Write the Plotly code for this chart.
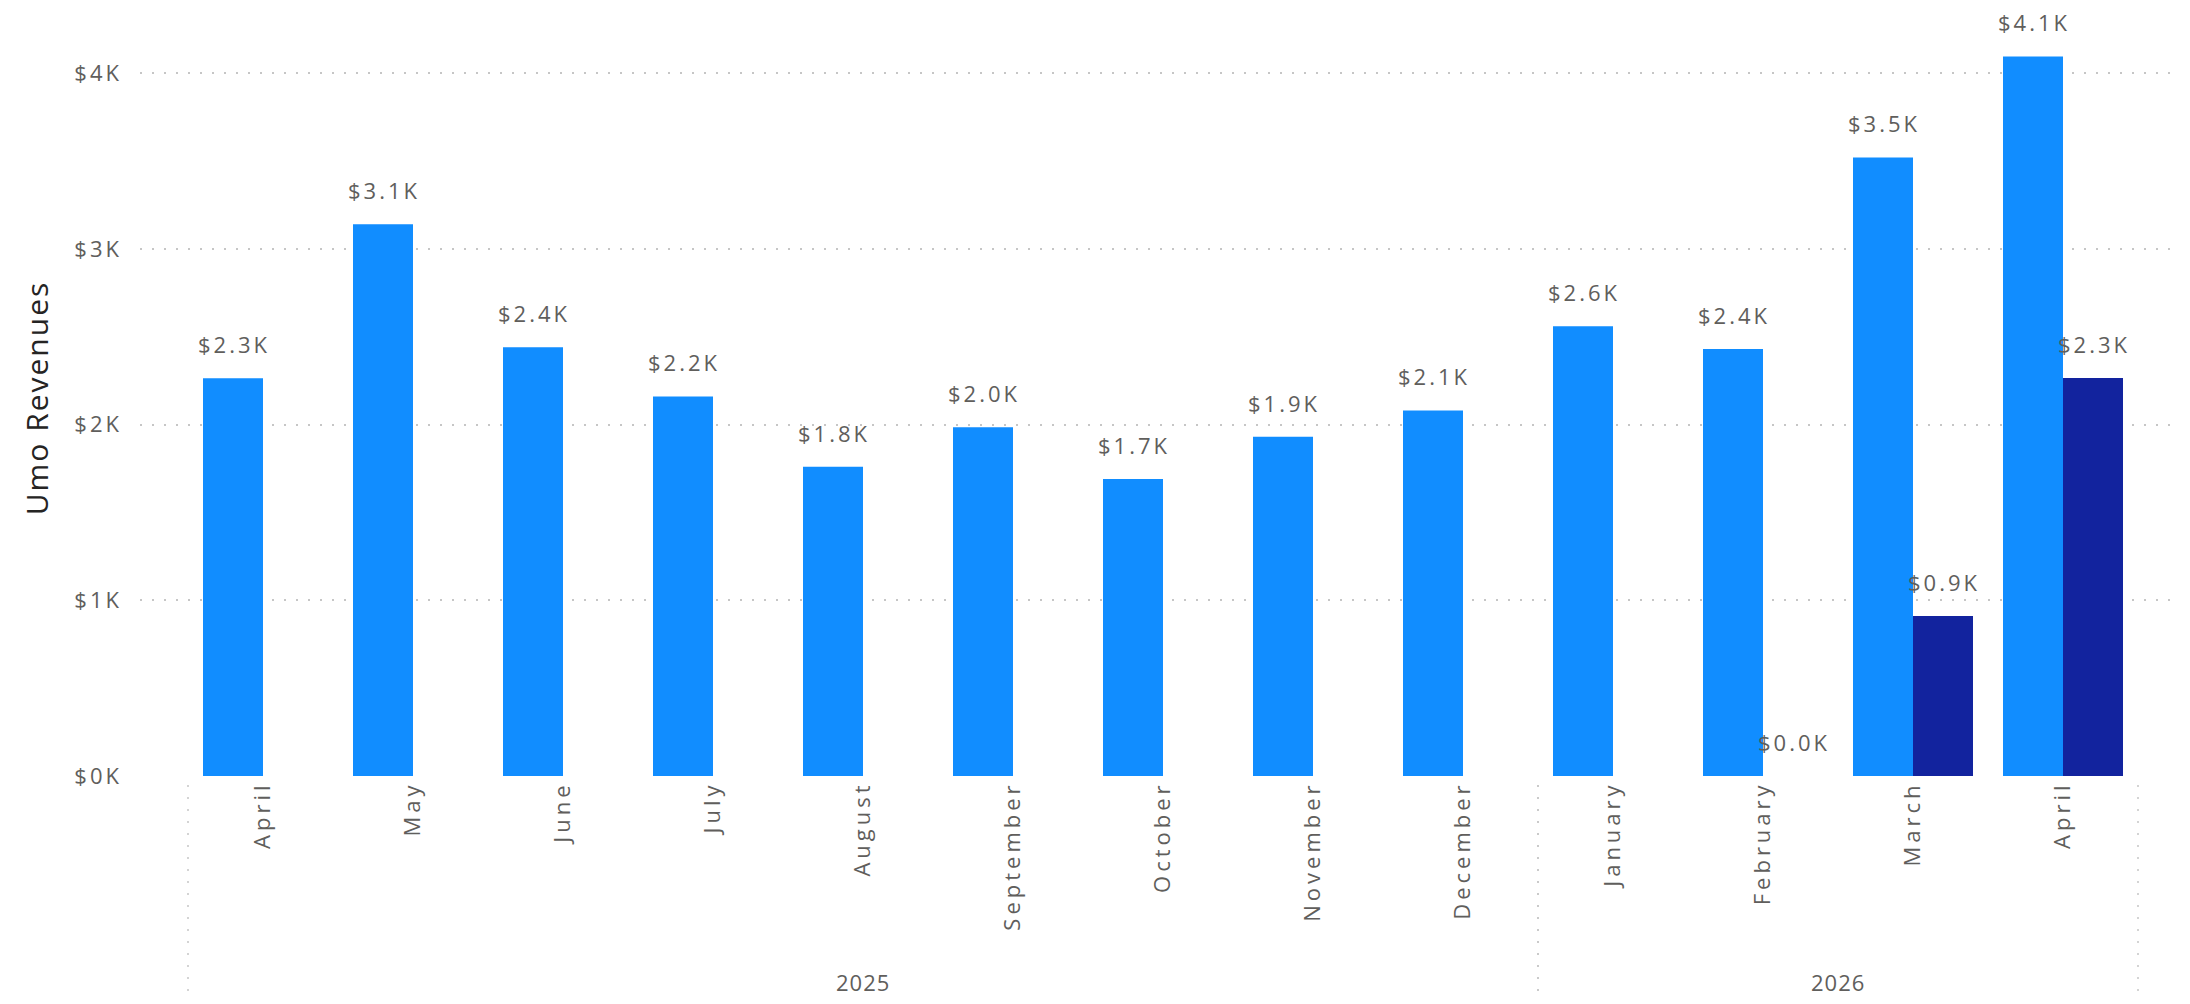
import plotly.graph_objects as go

# Data
months = ["April", "May", "June", "July", "August", "September", "October",
          "November", "December", "January", "February", "March", "April"]
years = [2025, 2025, 2025, 2025, 2025, 2025, 2025, 2025, 2025,
         2026, 2026, 2026, 2026]
revenue = [2263, 3140, 2440, 2160, 1760, 1985, 1690, 1930, 2080,
           2560, 2430, 3520, 4095]
revenue_2 = [None, None, None, None, None, None, None, None, None,
             None, 0, 910, 2265]
y_ticks = [0, 1000, 2000, 3000, 4000]
y_tick_labels = ["$0K", "$1K", "$2K", "$3K", "$4K"]

keys = [f"{m} {y}" for m, y in zip(months, years)]

FONT = "Segoe UI, Open Sans, sans-serif"
LABEL_GRAY = "#605E5C"
GRID = "#c6c6c6"


def spaced(text, px):
    # the source renders its text with wide letter spacing
    return f"<span style='letter-spacing:{px}px'>{text}</span>"


def fmt(v):
    return f"${v / 1000:.1f}K"


fig = go.Figure()
fig.add_trace(go.Bar(x=keys, y=revenue, name="Umo Revenues",
                     marker=dict(color="#118DFF", line=dict(width=0))))
fig.add_trace(go.Bar(x=keys, y=revenue_2, name="Umo Revenues (new)",
                     marker=dict(color="#12239E", line=dict(width=0))))

# data labels above each bar
annotations = []
for series, shift in ((revenue, -30), (revenue_2, 30)):
    for k, v in zip(keys, series):
        if v is None:
            continue
        annotations.append(dict(x=k, y=v, xref="x", yref="y", text=spaced(fmt(v), 3),
                                showarrow=False, xshift=shift + 1, yshift=34,
                                yanchor="middle",
                                font=dict(family=FONT, size=22, color=LABEL_GRAY)))

# year labels and dotted separators under the month labels
shapes = []
for yr in sorted(set(years)):
    idx = [i for i, y in enumerate(years) if y == yr]
    annotations.append(dict(x=(idx[0] + idx[-1]) / 2, y=-0.2725, xref="x", yref="paper",
                            text=spaced(yr, 1), showarrow=False, yanchor="middle",
                            font=dict(family=FONT, size=22, color=LABEL_GRAY)))
    for edge in (idx[0] - 0.5, idx[-1] + 0.5):
        shapes.append(dict(type="line", xref="x", yref="paper", x0=edge, x1=edge,
                           y0=-0.012, y1=-0.30,
                           line=dict(color=GRID, width=1.5, dash="2px,10px")))

fig.update_layout(
    width=2174, height=988,
    margin=dict(l=132, r=2, t=12, b=220),
    plot_bgcolor="white", paper_bgcolor="white",
    barmode="group", bargap=0.2, bargroupgap=0,
    showlegend=False,
    font=dict(family=FONT, size=22, color=LABEL_GRAY),
    annotations=annotations,
    shapes=shapes,
)
fig.update_xaxes(
    type="category", tickvals=keys, ticktext=[spaced(m, 4) for m in months],
    tickangle=-90, ticklabelstandoff=0,
    range=[-0.82, 12.78], showgrid=False, showline=False, zeroline=False,
    tickfont=dict(family=FONT, size=22, color=LABEL_GRAY),
)
fig.update_yaxes(
    range=[0, 4302], tickvals=y_ticks, ticktext=[spaced(t, 3) for t in y_tick_labels],
    showgrid=True, gridcolor=GRID, gridwidth=1.5, griddash="2px,10px",
    zeroline=False, showline=False, ticklabelstandoff=17,
    tickfont=dict(family=FONT, size=22, color=LABEL_GRAY),
    title=dict(text=spaced("Umo Revenues", 2), standoff=16,
               font=dict(family=FONT, size=30, color="#252423")),
)

fig.write_html("out.html")
